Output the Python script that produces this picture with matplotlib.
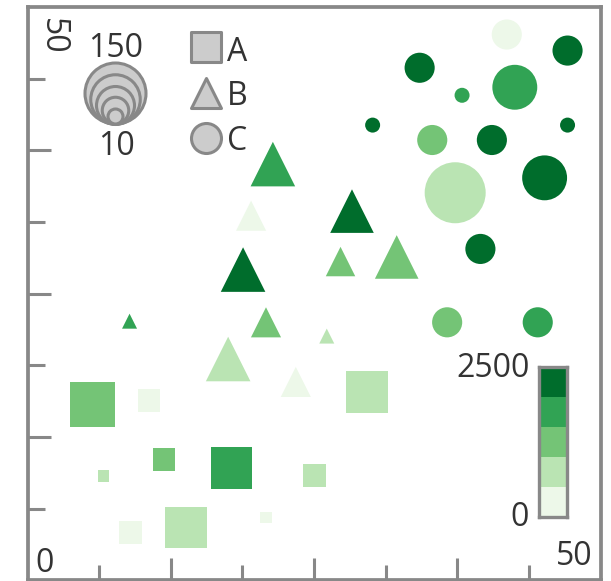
import matplotlib
matplotlib.use("Agg")
import matplotlib.pyplot as plt
import numpy as np
from matplotlib.colors import ListedColormap, BoundaryNorm
from matplotlib.markers import MarkerStyle

#%%
# Data: three shape groups, each point has x, y, a size value and a colour value
a_x     = [5.7, 10.6, 6.6, 11.9, 17.8, 9.0, 13.8, 20.8, 29.6, 25.0]
a_y     = [15.3, 15.7, 9.1, 10.5, 9.8, 4.2, 4.6, 5.5, 16.4, 9.1]
a_size  = [146, 57, 10, 57, 132, 57, 134, 10, 134, 58]
a_value = [1200, 300, 800, 1300, 1800, 200, 700, 250, 850, 650]

b_x     = [21.4, 28.3, 27.3, 32.2, 18.8, 19.5, 8.9, 20.8, 17.5, 23.4, 26.1]
b_y     = [36.3, 32.2, 27.8, 28.2, 27.1, 31.8, 22.6, 22.5, 19.3, 17.3, 21.3]
b_size  = [100, 97, 54, 97, 100, 56, 10, 56, 100, 56, 10]
b_value = [1700, 2300, 1200, 1350, 2200, 150, 1650, 1100, 700, 350, 900]

c_x     = [41.8, 47.1, 34.2, 37.9, 42.5, 30.1, 47.1, 35.3, 40.5, 37.3, 45.1, 39.5, 36.6, 44.5]
c_y     = [47.6, 46.2, 44.7, 42.3, 43.0, 39.7, 39.7, 38.4, 38.4, 33.8, 35.1, 28.9, 22.5, 22.5]
c_size  = [56, 56, 56, 10, 101, 10, 10, 56, 56, 150, 101, 56, 56, 56]
c_value = [200, 2100, 2400, 1600, 1900, 2250, 2350, 1150, 2150, 600, 2450, 2200, 1300, 1750]

size_legend  = [150, 115, 80, 45, 10]
shape_labels = ['A', 'B', 'C']
value_range  = [0, 2500]
x_range      = [0, 50]
y_range      = [0, 50]

greens = ['#edf8e9', '#bae4b3', '#74c476', '#31a354', '#006d2c']

#%%
# Layout (pixels of a 611x581 image)
W, H = 611, 581
AX_L, AX_T, AX_W, AX_H = 27.5, 7.0, 573.3, 573.3
GREY = '#888888'
TXT = '#333333'
FONT = 'Open Sans'
FS = 23
PT = 0.72  # points per pixel at dpi 100

cmap = ListedColormap(greens)
norm = BoundaryNorm(np.linspace(value_range[0], value_range[1], len(greens) + 1), cmap.N)


def diam_px(v):
    # linear size scale: 10 -> 15 px, 150 -> 61 px
    return 15 + (np.asarray(v, float) - 10) * 46 / 140


def to_data(px, py):
    x = x_range[0] + (px - AX_L) / AX_W * (x_range[1] - x_range[0])
    y = y_range[0] + (AX_T + AX_H - py) / AX_H * (y_range[1] - y_range[0])
    return x, y


fig = plt.figure(figsize=(W / 100, H / 100), dpi=100)
ax = fig.add_axes([AX_L / W, (H - AX_T - AX_H) / H, AX_W / W, AX_H / H])
ax.set_xlim(x_range)
ax.set_ylim(y_range)

# Points
ax.scatter(a_x, a_y, s=(0.75 * diam_px(a_size) * PT) ** 2, c=a_value, cmap=cmap, norm=norm,
           marker='s', linewidths=0, zorder=3)
ax.scatter(b_x, b_y, s=(diam_px(b_size) * PT) ** 2, c=b_value, cmap=cmap, norm=norm,
           marker='^', linewidths=0, zorder=3)
ax.scatter(c_x, c_y, s=(diam_px(c_size) * PT) ** 2, c=c_value, cmap=cmap, norm=norm,
           marker='o', linewidths=0, zorder=3)

# Frame and ticks
for sp in ax.spines.values():
    sp.set_color(GREY)
    sp.set_linewidth(2.7)
major = np.linspace(0, 50, 5)[1:-1]
minor = np.linspace(0, 50, 9)[1::2]
ax.set_xticks(major)
ax.set_yticks(major)
ax.set_xticks(minor, minor=True)
ax.set_yticks(minor, minor=True)
ax.tick_params(which='both', direction='in', color=GREY, width=2.2,
               labelbottom=False, labelleft=False)
ax.tick_params(axis='y', which='major', length=16.2)
ax.tick_params(axis='y', which='minor', length=11.9)
ax.tick_params(axis='x', which='major', length=16.0)
ax.tick_params(axis='x', which='minor', length=11.0)

# Axis end labels
ax.text(*to_data(35, 572), str(x_range[0]), fontsize=FS, family=FONT, color=TXT,
        ha='left', va='baseline')
ax.text(*to_data(593, 565), str(x_range[1]), fontsize=FS, family=FONT, color=TXT,
        ha='right', va='baseline')
ax.text(*to_data(52, 36), str(y_range[1]), fontsize=FS, family=FONT, color=TXT,
        ha='center', va='center', rotation=-90)

#%%
# Size legend: nested circles sharing a bottom edge
lx = 115
bottom = 123.5
for v in size_legend:
    d = float(diam_px(v))
    ax.scatter(*to_data(lx, bottom - d / 2), s=(d * PT) ** 2, marker='o',
               facecolor='#cccccc', edgecolor=GREY, linewidths=2.2, zorder=5)
ax.text(*to_data(116, 57.5), str(max(size_legend)), fontsize=FS, family=FONT, color=TXT,
        ha='center', va='baseline')
ax.text(*to_data(116, 155), str(min(size_legend)), fontsize=FS, family=FONT, color=TXT,
        ha='center', va='baseline')

# Shape legend
for marker, label, cy, base in zip(['s', '^', 'o'], shape_labels, [46.5, 93, 137.5], [61, 105, 150]):
    ax.plot(*to_data(205.5, cy), linestyle='none',
            marker=MarkerStyle(marker, joinstyle='round'), markersize=30 * PT,
            markerfacecolor='#cccccc', markeredgecolor=GREY, markeredgewidth=2.2, zorder=5)
    ax.text(*to_data(227, base), label, fontsize=FS, family=FONT, color=TXT,
            ha='left', va='baseline')

#%%
# Colour legend
cax = fig.add_axes([538.5 / W, (H - 516.5) / H, 28 / W, 150 / H])
levels = np.linspace(value_range[0], value_range[1], len(greens) + 1)
mids = (levels[:-1] + levels[1:]) / 2
cax.pcolormesh([0, 1], levels, mids.reshape(-1, 1), cmap=cmap, norm=norm)
cax.set_xlim(0, 1)
cax.set_ylim(value_range)
cax.set_xticks([])
cax.set_yticks([])
for sp in cax.spines.values():
    sp.set_color(GREY)
    sp.set_linewidth(2.4)
fig.text(530 / W, (H - 377) / H, str(value_range[1]), fontsize=FS, family=FONT, color=TXT,
         ha='right', va='baseline')
fig.text(529 / W, (H - 526) / H, str(value_range[0]), fontsize=FS, family=FONT, color=TXT,
         ha='right', va='baseline')

fig.savefig('out.png', dpi=100)
